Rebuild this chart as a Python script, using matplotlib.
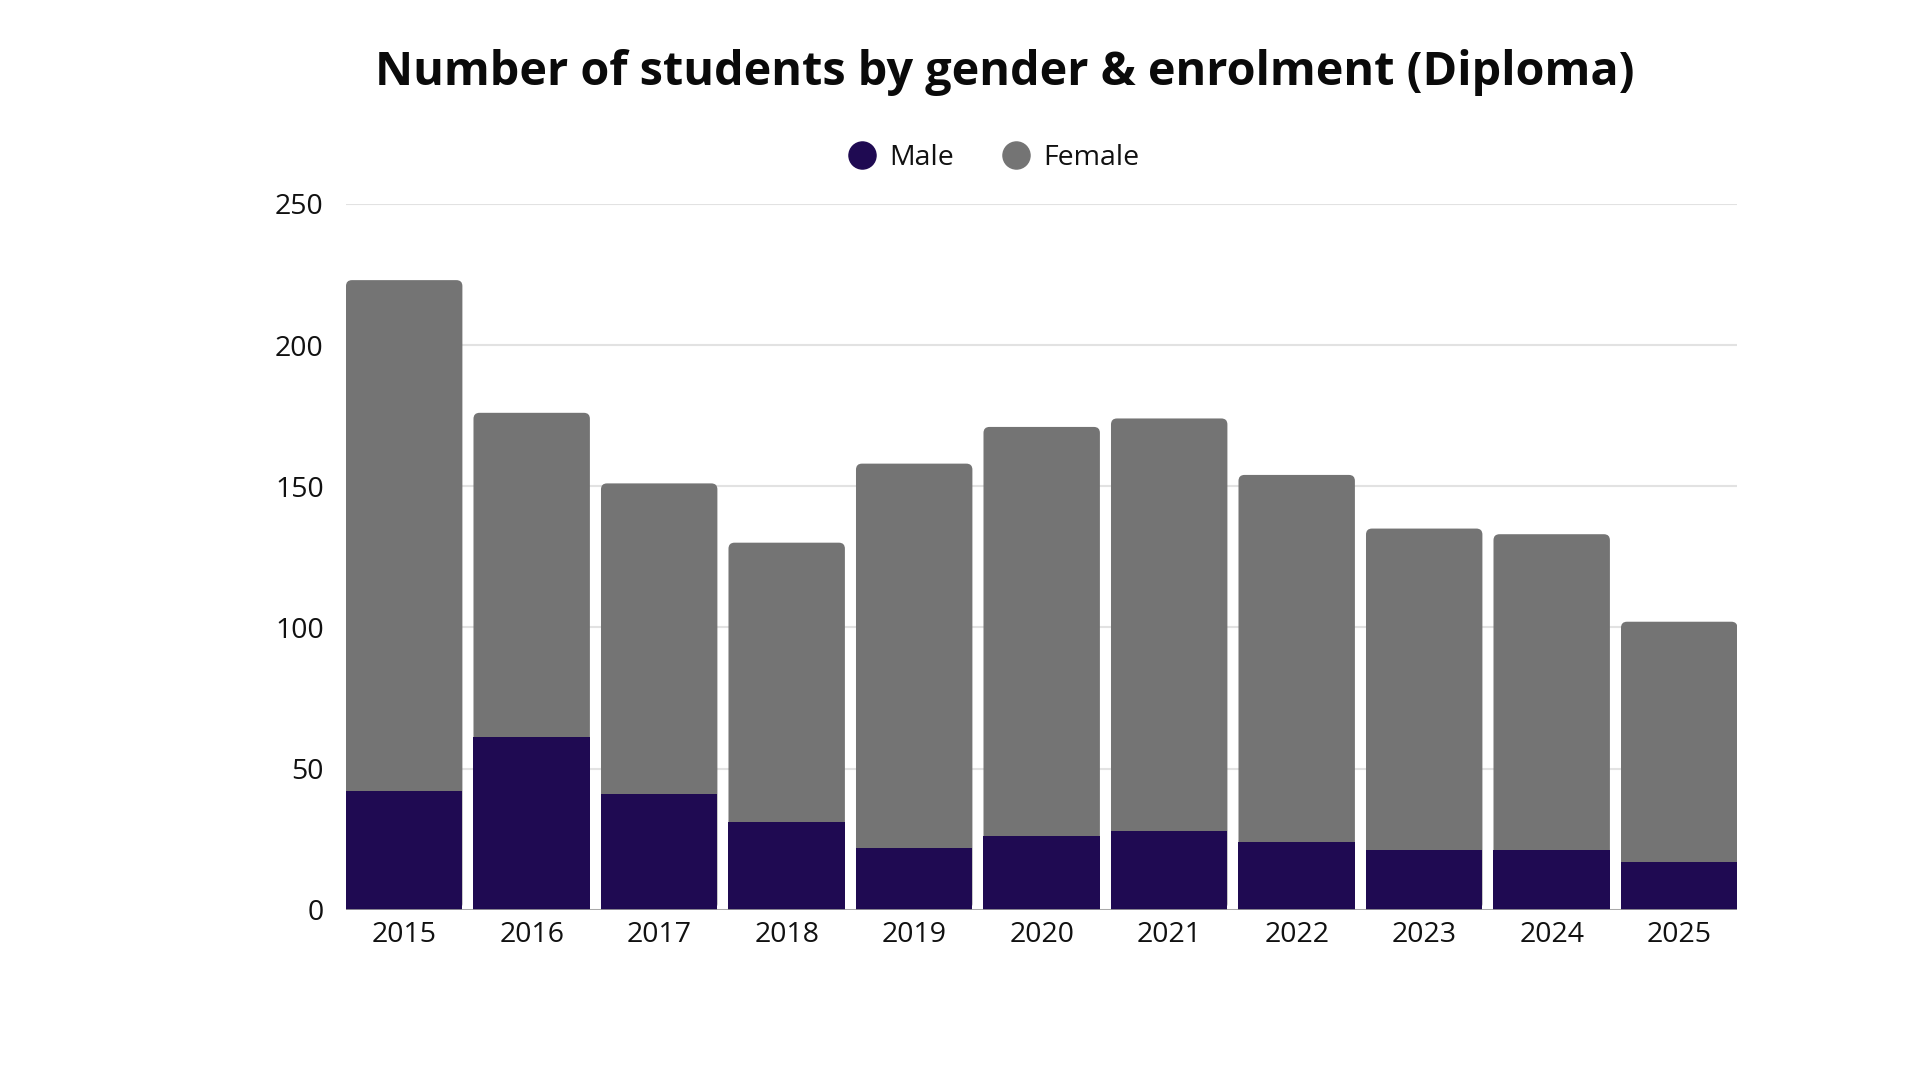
import matplotlib
matplotlib.use("Agg")
import matplotlib.pyplot as plt
from matplotlib.patches import FancyBboxPatch
from matplotlib.lines import Line2D
import numpy as np

years = ["2015", "2016", "2017", "2018", "2019", "2020", "2021", "2022", "2023", "2024", "2025"]
male = [42, 61, 41, 31, 22, 26, 28, 24, 21, 21, 17]
female = [181, 115, 110, 99, 136, 145, 146, 130, 114, 112, 85]
yticks = [0, 50, 100, 150, 200, 250]
title = "Number of students by gender & enrolment (Diploma)"

MALE_C = "#1f0a52"
FEMALE_C = "#747474"

plt.rcParams['font.family'] = ['Open Sans', 'DejaVu Sans']

fig = plt.figure(figsize=(19.2, 10.8), dpi=100)
ax = fig.add_axes([0.1802, 0.1577, 0.7247, 0.6535])

x = np.arange(len(years))
w = 0.913
male_arr = np.array(male)
total = male_arr + np.array(female)

ax.set_xlim(-w / 2, len(years) - 1 + w / 2)
ax.set_ylim(0, 250)

# pixel scale for rounding
fig.canvas.draw()
bb = ax.get_window_extent()
px_x = bb.width / (ax.get_xlim()[1] - ax.get_xlim()[0])
px_y = bb.height / 250.0
r_px = 6
r = r_px / px_x
aspect = px_x / px_y

# female bars (rounded top), drawn from 0 to total, male covers lower part
for xi, t in zip(x, total):
    p = FancyBboxPatch((xi - w / 2, 0), w, t,
                       boxstyle=f"round,pad=0,rounding_size={r}",
                       mutation_aspect=aspect,
                       facecolor=FEMALE_C, edgecolor="none", zorder=2)
    ax.add_patch(p)

ax.bar(x, male_arr, width=w, color=MALE_C, edgecolor="none", zorder=3)

ax.set_yticks(yticks)
ax.yaxis.grid(True, color="#e2e2e2", linewidth=1.5, zorder=0)
ax.set_axisbelow(True)
ax.axhline(0, color="#9e9e9e", linewidth=1.2, zorder=4)
for s in ax.spines.values():
    s.set_visible(False)
ax.set_xticks(x)
ax.set_xticklabels(years)
ax.tick_params(axis='both', length=0, labelsize=20.5, colors="#111111")
ax.tick_params(axis='y', pad=16)
ax.tick_params(axis='x', pad=8)

fig.text(0.5235, 0.9325, title, ha="center", va="center",
         fontsize=33.7, fontweight="bold", color="#0a0a0a")

handles = [Line2D([], [], marker='o', linestyle='none', markersize=19.5,
                  markerfacecolor=MALE_C, markeredgecolor=MALE_C, label="Male"),
           Line2D([], [], marker='o', linestyle='none', markersize=19.5,
                  markerfacecolor=FEMALE_C, markeredgecolor=FEMALE_C, label="Female")]
fig.legend(handles=handles, loc="center", bbox_to_anchor=(0.5175, 0.854), ncol=2,
           frameon=False, fontsize=20.5, handlelength=1.0, handletextpad=0.45,
           columnspacing=1.7, labelcolor="#111111")

fig.savefig("out.png", dpi=100)
